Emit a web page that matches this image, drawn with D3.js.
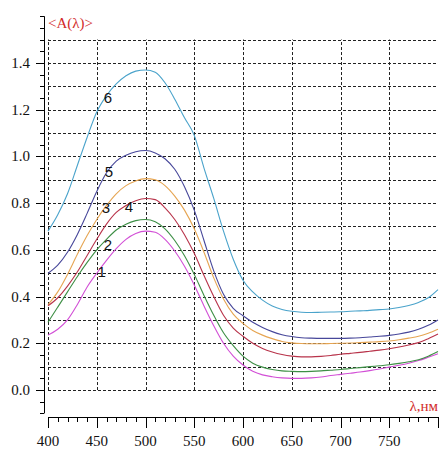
<!DOCTYPE html>
<html>
<head>
<meta charset="utf-8">
<script src="https://cdn.jsdelivr.net/npm/d3@7"></script>
<style>
  body { margin: 0; background: #fff; }
  svg { display: block; }
  .serif { font-family: "Liberation Serif", "Times New Roman", serif; }
  .sans { font-family: "Liberation Sans", Arial, sans-serif; }
</style>
</head>
<body>
<svg id="chart" width="440" height="450"></svg>
<script>
// wavelengths, nm
var wavelengths = d3.range(400, 801, 10);

// <A(λ)> for each curve, every 10 nm
var curve1 = [0.235, 0.26, 0.30, 0.365, 0.44, 0.50, 0.555, 0.605, 0.645, 0.67, 0.68, 0.675, 0.645, 0.595, 0.53, 0.45, 0.36, 0.275, 0.20, 0.145, 0.107, 0.08, 0.065, 0.057, 0.052, 0.05, 0.05, 0.052, 0.056, 0.062, 0.067, 0.072, 0.077, 0.083, 0.09, 0.098, 0.106, 0.115, 0.126, 0.14, 0.155];
var curve2 = [0.29, 0.355, 0.42, 0.485, 0.545, 0.60, 0.645, 0.685, 0.71, 0.725, 0.73, 0.72, 0.69, 0.64, 0.575, 0.495, 0.405, 0.32, 0.245, 0.19, 0.145, 0.115, 0.098, 0.088, 0.082, 0.08, 0.079, 0.08, 0.082, 0.085, 0.088, 0.092, 0.096, 0.10, 0.104, 0.108, 0.114, 0.121, 0.13, 0.145, 0.165];
var curve3 = [0.365, 0.42, 0.495, 0.58, 0.66, 0.73, 0.79, 0.84, 0.875, 0.895, 0.905, 0.90, 0.875, 0.83, 0.77, 0.69, 0.59, 0.48, 0.39, 0.325, 0.285, 0.255, 0.235, 0.22, 0.208, 0.202, 0.199, 0.198, 0.198, 0.199, 0.20, 0.201, 0.203, 0.205, 0.207, 0.21, 0.215, 0.222, 0.23, 0.243, 0.26];
var curve4 = [0.36, 0.395, 0.445, 0.505, 0.575, 0.645, 0.71, 0.76, 0.79, 0.81, 0.82, 0.815, 0.78, 0.73, 0.665, 0.585, 0.49, 0.40, 0.32, 0.265, 0.23, 0.20, 0.178, 0.163, 0.152, 0.145, 0.142, 0.142, 0.144, 0.148, 0.153, 0.157, 0.161, 0.166, 0.171, 0.177, 0.184, 0.193, 0.203, 0.22, 0.24];
var curve5 = [0.50, 0.535, 0.59, 0.665, 0.755, 0.85, 0.93, 0.98, 1.005, 1.02, 1.025, 1.015, 0.99, 0.945, 0.87, 0.77, 0.64, 0.51, 0.41, 0.35, 0.318, 0.29, 0.268, 0.25, 0.237, 0.229, 0.224, 0.222, 0.221, 0.221, 0.221, 0.222, 0.224, 0.227, 0.23, 0.234, 0.24, 0.248, 0.26, 0.277, 0.30];
var curve6 = [0.68, 0.75, 0.84, 0.96, 1.08, 1.19, 1.26, 1.31, 1.345, 1.365, 1.37, 1.36, 1.315, 1.245, 1.165, 1.09, 0.95, 0.82, 0.68, 0.56, 0.47, 0.42, 0.385, 0.36, 0.345, 0.337, 0.333, 0.332, 0.333, 0.334, 0.335, 0.337, 0.339, 0.341, 0.344, 0.347, 0.353, 0.362, 0.375, 0.395, 0.43];

var curveNames = ["1", "2", "3", "4", "5", "6"];
var curveColors = ["#d24fd6", "#3d8f45", "#e6a552", "#b8334a", "#47479a", "#4aa3cb"];

// where the curve numbers sit, in chart units
var labelNm = [455, 461.5, 459.5, 483, 462.6, 461.5];
var labelA = [0.505, 0.62, 0.78, 0.783, 0.933, 1.25];

var xTicks = [400, 450, 500, 550, 600, 650, 700, 750];
var yTicks = [0.0, 0.2, 0.4, 0.6, 0.8, 1.0, 1.2, 1.4];

var allCurves = [curve1, curve2, curve3, curve4, curve5, curve6];

var svg = d3.select("#chart");

var x = d3.scaleLinear().domain([400, 800]).range([48, 438]);
var y = d3.scaleLinear().domain([-0.1, 1.6]).range([413.4, 16.2]);

// dashed grid
var grid = svg.append("g")
    .attr("stroke", "#222")
    .attr("stroke-width", 1)
    .attr("stroke-dasharray", "3,2");

grid.selectAll("line.h")
    .data(d3.range(0, 16).map(d => d / 10))
    .join("line")
    .attr("class", "h")
    .attr("x1", x(400)).attr("x2", x(800))
    .attr("y1", d => Math.round(y(d)) + 0.5)
    .attr("y2", d => Math.round(y(d)) + 0.5);

grid.selectAll("line.v")
    .data(xTicks)
    .join("line")
    .attr("class", "v")
    .attr("x1", d => Math.round(x(d)) + 0.5)
    .attr("x2", d => Math.round(x(d)) + 0.5)
    .attr("y1", y(0)).attr("y2", y(1.5));

// y axis
var yAxisX = 44;
var yax = svg.append("g").attr("stroke", "#000").attr("stroke-width", 1);
yax.append("line")
    .attr("x1", yAxisX + 0.5).attr("x2", yAxisX + 0.5)
    .attr("y1", y(1.6)).attr("y2", y(-0.1));
yax.selectAll("line.t")
    .data(d3.range(-2, 33).map(d => d * 0.05))
    .join("line")
    .attr("class", "t")
    .attr("x1", d => {
        var k = Math.round(d * 20);
        return yAxisX - (k % 4 === 0 && k >= 0 && k <= 28 ? 8 : 4);
    })
    .attr("x2", yAxisX)
    .attr("y1", d => Math.round(y(d)) + 0.5)
    .attr("y2", d => Math.round(y(d)) + 0.5);

svg.append("g")
    .attr("class", "serif")
    .selectAll("text")
    .data(yTicks)
    .join("text")
    .attr("x", 30)
    .attr("y", d => y(d) + 5)
    .attr("text-anchor", "end")
    .attr("font-size", 15)
    .attr("fill", "#111")
    .text(d => d.toFixed(1));

// x axis
var xAxisY = 417;
var xax = svg.append("g").attr("stroke", "#000").attr("stroke-width", 1);
xax.append("line")
    .attr("x1", x(400)).attr("x2", x(800))
    .attr("y1", xAxisY + 0.5).attr("y2", xAxisY + 0.5);
xax.selectAll("line.t")
    .data(d3.range(400, 801, 10))
    .join("line")
    .attr("class", "t")
    .attr("x1", d => Math.round(x(d)) + 0.5)
    .attr("x2", d => Math.round(x(d)) + 0.5)
    .attr("y1", xAxisY)
    .attr("y2", d => xAxisY + (d % 50 === 0 ? 11 : 5));

svg.append("g")
    .attr("class", "serif")
    .selectAll("text")
    .data(xTicks)
    .join("text")
    .attr("x", d => x(d))
    .attr("y", 446)
    .attr("text-anchor", "middle")
    .attr("font-size", 15)
    .attr("fill", "#111")
    .text(d => d);

// axis titles
svg.append("text")
    .attr("class", "serif")
    .attr("x", 48).attr("y", 28)
    .attr("font-size", 15)
    .attr("fill", "#d22b2b")
    .text("<A(λ)>");

svg.append("text")
    .attr("class", "serif")
    .attr("x", 438).attr("y", 411)
    .attr("text-anchor", "end")
    .attr("font-size", 15)
    .attr("fill", "#d22b2b")
    .text("λ,нм");

// curves
var line = d3.line()
    .x((d, i) => x(wavelengths[i]))
    .y(d => y(d))
    .curve(d3.curveMonotoneX);

svg.append("g")
    .selectAll("path")
    .data(allCurves)
    .join("path")
    .attr("fill", "none")
    .attr("stroke", (d, i) => curveColors[i])
    .attr("stroke-width", 1.1)
    .attr("d", line);

// curve numbers
svg.append("g")
    .attr("class", "sans")
    .selectAll("text")
    .data(curveNames)
    .join("text")
    .attr("x", (d, i) => x(labelNm[i]))
    .attr("y", (d, i) => y(labelA[i]) + 5)
    .attr("text-anchor", "middle")
    .attr("font-size", 15)
    .attr("fill", "#111")
    .text(d => d);
</script>
</body>
</html>
